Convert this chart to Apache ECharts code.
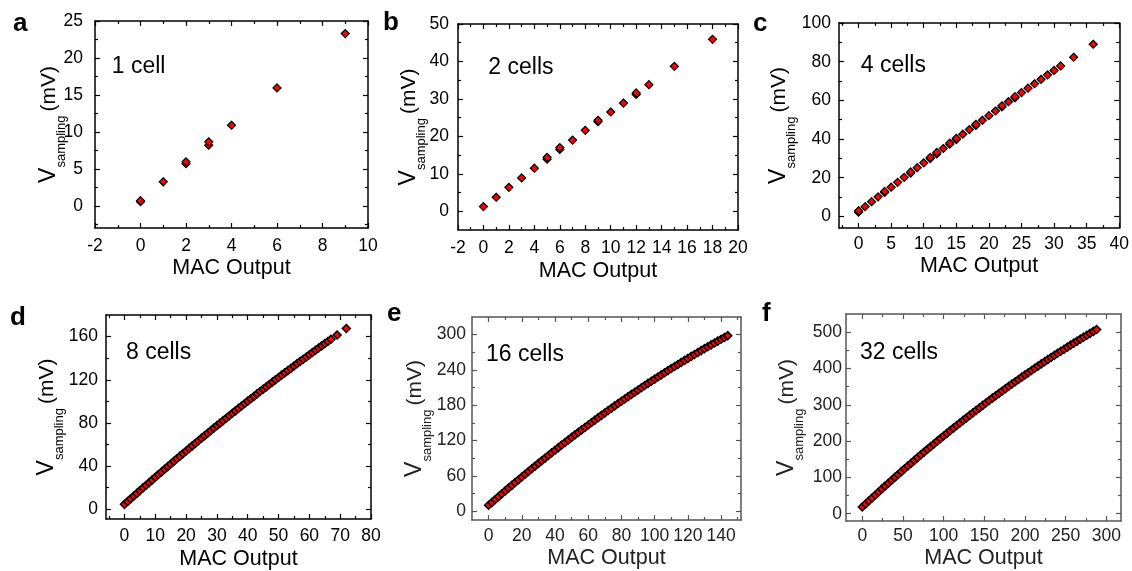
<!DOCTYPE html>
<html><head><meta charset="utf-8">
<script src="https://cdn.jsdelivr.net/npm/echarts@6/dist/echarts.min.js"></script>
<style>html,body{margin:0;padding:0;background:#fff}#c{width:1132px;height:571px}</style>
</head><body><div id="c"></div>
<script>
// ---- data ----
const macA = [0, 0, 1, 2, 2, 3, 3, 4, 6, 9];
const vA   = [0.55, 0.7, 3.25, 5.7, 5.95, 8.2, 8.65, 10.9, 15.95, 23.3];

const macB = [0, 1, 2, 3, 4, 5, 5, 6, 6, 7, 8, 9, 9, 10, 11, 12, 12, 13, 15, 18];
const vB   = [1.25, 3.75, 6.4, 8.9, 11.5, 13.9, 14.4, 16.5, 17.0, 19.0, 21.6, 23.9, 24.3, 26.5, 28.9, 31.2, 31.6, 33.8, 38.7, 45.9];

const macC = [0, 0, 1, 2, 3, 4, 4, 5, 6, 7, 8, 8, 9, 10, 11, 11, 12, 12, 13, 14, 14, 15, 15, 16, 17, 18, 18, 19, 20, 21, 22, 22, 23, 24, 24, 25, 26, 27, 28, 29, 30, 31, 33, 36];
const vC   = [2.2, 2.9, 5.0, 7.6, 10.1, 12.4, 12.9, 15.1, 17.6, 20.2, 22.4, 23.0, 25.2, 27.7, 29.9, 30.5, 32.3, 33.1, 35.1, 37.3, 37.9, 39.7, 40.4, 42.5, 44.9, 47.0, 47.6, 49.7, 52.1, 54.5, 56.6, 57.2, 59.3, 61.3, 61.9, 64.0, 66.3, 68.6, 70.9, 73.2, 75.5, 77.8, 82.3, 89.0];

const macD = [0,1,2,3,4,5,6,7,8,9,10,11,12,13,14,15,16,17,18,19,20,21,22,23,24,25,26,27,28,29,30,31,32,33,34,35,36,37,38,39,40,41,42,43,44,45,46,47,48,49,50,51,52,53,54,55,56,57,58,59,60,61,62,63,64,65,66,67,69,72];
const vD   = [4.6,7.2,9.7,12.2,14.7,17.3,19.8,22.3,24.7,27.2,29.7,32.2,34.6,37.1,39.5,42.0,44.4,46.8,49.2,51.6,54.0,56.4,58.8,61.1,63.5,65.9,68.2,70.5,72.9,75.2,77.5,79.8,82.1,84.4,86.7,89.0,91.2,93.5,95.7,98.0,100.2,102.4,104.6,106.9,109.1,111.3,113.4,115.6,117.8,120.0,122.1,124.3,126.4,128.5,130.6,132.8,134.9,137.0,139.0,141.1,143.2,145.3,147.3,149.4,151.4,153.5,155.5,157.5,161.5,167.5];

const macE = [0,2,4,6,8,10,12,14,16,18,20,22,24,26,28,30,32,34,36,38,40,42,44,46,48,50,52,54,56,58,60,62,64,66,68,70,72,74,76,78,80,82,84,86,88,90,92,94,96,98,100,102,104,106,108,110,112,114,116,118,120,122,124,126,128,130,132,134,136,138,140,142,144];
const vE   = [10.0,14.9,19.8,24.7,29.6,34.4,39.2,43.9,48.7,53.4,58.1,62.8,67.4,72.0,76.6,81.2,85.7,90.2,94.7,99.2,103.6,108.0,112.4,116.7,121.1,125.4,129.7,133.9,138.1,142.3,146.5,150.7,154.8,158.9,162.9,167.0,171.0,175.0,179.0,182.9,186.8,190.7,194.6,198.4,202.2,206.0,209.7,213.5,217.2,220.9,224.5,228.1,231.7,235.3,238.9,242.4,245.9,249.3,252.8,256.2,259.6,263.0,266.3,269.6,272.9,276.2,279.4,282.6,285.8,289.0,292.1,295.2,298.3];

const macF = [0,4,8,12,16,20,24,28,32,36,40,44,48,52,56,60,64,68,72,76,80,84,88,92,96,100,104,108,112,116,120,124,128,132,136,140,144,148,152,156,160,164,168,172,176,180,184,188,192,196,200,204,208,212,216,220,224,228,232,236,240,244,248,252,256,260,264,268,272,276,280,284,288];
const vF   = [18.5,26.9,35.2,43.4,51.7,59.9,68.0,76.1,84.1,92.1,100.1,108.0,115.9,123.7,131.5,139.2,146.9,154.6,162.2,169.7,177.3,184.7,192.2,199.6,206.9,214.2,221.4,228.7,235.8,242.9,250.0,257.1,264.0,271.0,277.9,284.7,291.5,298.3,305.0,311.7,318.4,324.9,331.5,338.0,344.4,350.9,357.2,363.6,369.8,376.1,382.3,388.4,394.5,400.6,406.6,412.6,418.5,424.4,430.2,436.0,441.8,447.5,453.1,458.7,464.3,469.8,475.3,480.8,486.2,491.5,496.8,502.1,507.3];

// tick labels / tick positions
const xTicksA = [-2, 0, 2, 4, 6, 8, 10], xMinorA = [-1, 1, 3, 5, 7, 9];
const yTicksA = [0, 5, 10, 15, 20, 25],  yMinorA = [-2.5, 2.5, 7.5, 12.5, 17.5, 22.5];
const xTicksB = [-2, 0, 2, 4, 6, 8, 10, 12, 14, 16, 18, 20], xMinorB = [-1, 1, 3, 5, 7, 9, 11, 13, 15, 17, 19];
const yTicksB = [0, 10, 20, 30, 40, 50], yMinorB = [5, 15, 25, 35, 45];
const xTicksC = [0, 5, 10, 15, 20, 25, 30, 35, 40], xMinorC = [-2.5, 2.5, 7.5, 12.5, 17.5, 22.5, 27.5, 32.5, 37.5];
const yTicksC = [0, 20, 40, 60, 80, 100], yMinorC = [10, 30, 50, 70, 90];
const xTicksD = [0, 10, 20, 30, 40, 50, 60, 70, 80], xMinorD = [-5, 5, 15, 25, 35, 45, 55, 65, 75];
const yTicksD = [0, 40, 80, 120, 160], yMinorD = [20, 60, 100, 140];
const xTicksE = [0, 20, 40, 60, 80, 100, 120, 140], xMinorE = [10, 30, 50, 70, 90, 110, 130, 150];
const yTicksE = [0, 60, 120, 180, 240, 300], yMinorE = [30, 90, 150, 210, 270];
const xTicksF = [0, 50, 100, 150, 200, 250, 300], xMinorF = [25, 75, 125, 175, 225, 275];
const yTicksF = [0, 100, 200, 300, 400, 500], yMinorF = [50, 150, 250, 350, 450];

const letters = ['a', 'b', 'c', 'd', 'e', 'f'];
const cellLabels = ['1 cell', '2 cells', '4 cells', '8 cells', '16 cells', '32 cells'];

// ---- layout / styling ----
const FONT = '"Liberation Sans", Arial, sans-serif';
const panels = [
  {mac: macA, v: vA, xT: xTicksA, xM: xMinorA, yT: yTicksA, yM: yMinorA, xr: [-2, 10], yr: [-3, 25],
   grid: {left: 95, top: 21, width: 273, height: 207}, ylm: 12, xlm: 9, xng: 29, yng: 27, sym: 8, bw: 1.2,
   L: [13, 24], C: [111.7, 67], line: '#000', txt: '#000'},
  {mac: macB, v: vB, xT: xTicksB, xM: xMinorB, yT: yTicksB, yM: yMinorB, xr: [-2, 20], yr: [-5, 50],
   grid: {left: 458, top: 24, width: 280, height: 206}, ylm: 9, xlm: 9, xng: 30, yng: 30, sym: 8, bw: 1.2,
   L: [383, 22.7], C: [488.3, 68], line: '#000', txt: '#000'},
  {mac: macC, v: vC, xT: xTicksC, xM: xMinorC, yT: yTicksC, yM: yMinorC, xr: [-3, 40], yr: [-6, 100],
   grid: {left: 839, top: 23, width: 281, height: 205}, ylm: 8, xlm: 7, xng: 27, yng: 41, sym: 8, bw: 1.2,
   L: [753, 24], C: [860.7, 66], line: '#000', txt: '#000'},
  {mac: macD, v: vD, xT: xTicksD, xM: xMinorD, yT: yTicksD, yM: yMinorD, xr: [-6, 80], yr: [-9, 180],
   grid: {left: 106, top: 315, width: 265, height: 205}, ylm: 8, xlm: 8, xng: 29, yng: 40, sym: 8, bw: 1.5,
   L: [10, 317.7], C: [126, 352.6], line: '#000', txt: '#000'},
  {mac: macE, v: vE, xT: xTicksE, xM: xMinorE, yT: yTicksE, yM: yMinorE, xr: [-10, 152], yr: [-15, 330],
   grid: {left: 472, top: 317, width: 269, height: 203}, ylm: 6, xlm: 7, xng: 27, yng: 38, sym: 8, bw: 1.5,
   L: [387, 314.3], C: [486, 354.6], line: '#555', txt: '#222'},
  {mac: macF, v: vF, xT: xTicksF, xM: xMinorF, yT: yTicksF, yM: yMinorF, xr: [-20, 318], yr: [-20, 550],
   grid: {left: 846, top: 314, width: 275, height: 207}, ylm: 4, xlm: 6, xng: 26, yng: 40, sym: 8, bw: 1.5,
   L: [762, 314.3], C: [860, 353], line: '#555', txt: '#222'}
];

const grids = [], xAxes = [], yAxes = [], series = [], graphics = [];
panels.forEach((p, i) => {
  grids.push(Object.assign({show: false, containLabel: false}, p.grid));
  const ls = {color: p.line, width: 1.5};
  const tls = {color: p.line, width: 1.2};
  const base = (r) => ({gridIndex: i, type: 'value', min: r[0], max: r[1], splitLine: {show: false}, nameMoveOverlap: false});
  const mk = (r, pos, ticks, len, line, labels, extra) => Object.assign(base(r), {
    position: pos,
    axisLine: {show: line, onZero: false, lineStyle: ls},
    axisTick: {show: true, inside: true, length: len, customValues: ticks, lineStyle: tls},
    axisLabel: labels ? Object.assign({show: true, customValues: ticks, fontSize: 17.5, color: p.txt, fontFamily: FONT}, labels) : {show: false}
  }, extra || {});
  xAxes.push(mk(p.xr, 'bottom', p.xT, 5, true, {margin: p.xlm}, {
    name: 'MAC Output', nameLocation: 'middle', nameGap: p.xng,
    nameTextStyle: {fontSize: 21.5, color: p.txt, fontFamily: FONT}
  }));
  xAxes.push(mk(p.xr, 'bottom', p.xM, 3, false, null));
  xAxes.push(mk(p.xr, 'top', p.xT, 5, true, null));
  xAxes.push(mk(p.xr, 'top', p.xM, 3, false, null));
  yAxes.push(mk(p.yr, 'left', p.yT, 5, true, {margin: p.ylm}, {
    name: '{v|V}{s|sampling}{u|(mV)}', nameLocation: 'middle', nameGap: p.yng, nameRotate: 90,
    nameTextStyle: {color: p.txt, fontFamily: FONT, rich: {
      v: {fontSize: 23, lineHeight: 26, padding: [0, 0, 8, 0], verticalAlign: 'bottom', color: p.txt, fontFamily: FONT},
      s: {fontSize: 13, lineHeight: 14, padding: [0, 4, 0, 0], verticalAlign: 'bottom', color: p.txt, fontFamily: FONT},
      u: {fontSize: 21, lineHeight: 26, padding: [0, 0, 8, 0], verticalAlign: 'bottom', color: p.txt, fontFamily: FONT}
    }}
  }));
  yAxes.push(mk(p.yr, 'left', p.yM, 3, false, null));
  yAxes.push(mk(p.yr, 'right', p.yT, 5, true, null));
  yAxes.push(mk(p.yr, 'right', p.yM, 3, false, null));
  series.push({
    type: 'scatter', xAxisIndex: 4 * i, yAxisIndex: 4 * i,
    data: p.mac.map((m, k) => [m, p.v[k]]),
    symbol: 'diamond', symbolSize: p.sym,
    itemStyle: {color: '#ff0000', borderColor: '#000', borderWidth: p.bw, opacity: 1},
    emphasis: {disabled: true}, animation: false
  });
  graphics.push({type: 'text', style: {text: letters[i], x: p.L[0], y: p.L[1], font: 'bold 26px ' + FONT, fill: '#000', align: 'left', verticalAlign: 'middle'}});
  graphics.push({type: 'text', style: {text: cellLabels[i], x: p.C[0], y: p.C[1], font: '23px ' + FONT, fill: '#000', align: 'left', verticalAlign: 'middle'}});
});

const chart = echarts.init(document.getElementById('c'), null, {renderer: 'canvas'});
chart.setOption({
  animation: false,
  backgroundColor: '#fff',
  textStyle: {fontFamily: FONT},
  grid: grids, xAxis: xAxes, yAxis: yAxes, series: series, graphic: graphics
});
</script></body></html>
